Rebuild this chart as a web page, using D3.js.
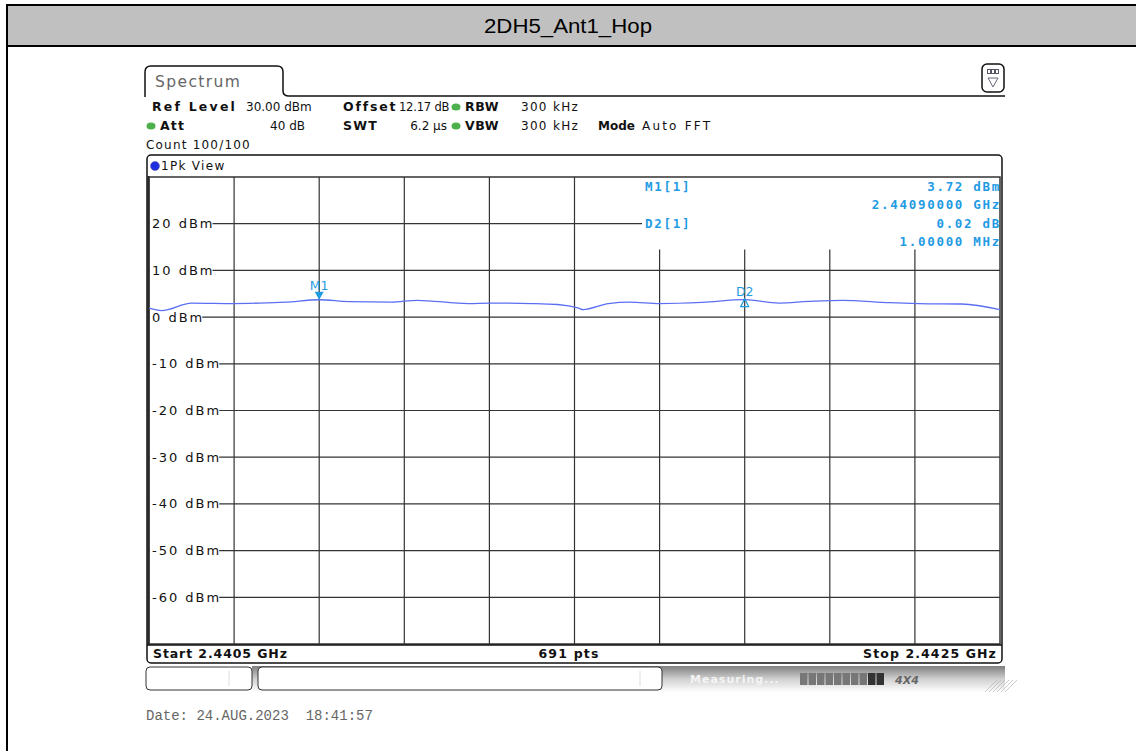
<!DOCTYPE html>
<html>
<head>
<meta charset="utf-8">
<script src="https://cdn.jsdelivr.net/npm/d3@7"></script>
<style>
  body { margin: 0; background: #fff; }
  svg { display: block; }
</style>
</head>
<body>
<div id="chart"></div>
<script>
// title / instrument settings
var chartTitle = "2DH5_Ant1_Hop";
var startGHz = 2.4405, stopGHz = 2.4425;
var refLevel = 30, levelMin = -70;
var levelTicks = [20, 10, 0, -10, -20, -30, -40, -50, -60];
var freqDivs = d3.range(0, 11).map(function(i){ return startGHz + i * (stopGHz - startGHz) / 10; });

// trace (GHz, dBm)
var traceFreq = [2.44050, 2.44053, 2.44060, 2.44070, 2.44076, 2.44082, 2.44090, 2.44097, 2.44107, 2.44113,
                 2.44125, 2.44130, 2.44140, 2.44146, 2.44151, 2.44152, 2.44158, 2.44163, 2.44170, 2.44180,
                 2.44190, 2.44198, 2.44205, 2.44213, 2.44224, 2.44231, 2.44241, 2.44250];
var traceLevel = [1.9, 1.4, 3.0, 2.9, 3.0, 3.2, 3.72, 3.3, 3.2, 3.6,
                  2.9, 3.0, 2.9, 2.7, 1.9, 1.6, 2.9, 3.2, 2.9, 3.15,
                  3.74, 3.0, 3.35, 3.6, 3.1, 2.9, 2.8, 1.6];

// markers
var markerNames = ["M1", "D2"];
var markerFreq = [2.4409, 2.4419];
var markerLevel = [3.72, 3.74];
var markerInfo = [["M1[1]", "3.72 dBm", "2.44090000 GHz"], ["D2[1]", "0.02 dB", "1.00000 MHz"]];

var W = 1136, H = 751;
var gridCOLOR = "#333", traceCOLOR = "#5b6ff2", markCOLOR = "#1f9be3";
var uiFont = "'DejaVu Sans', Verdana, sans-serif";

var svg = d3.select("#chart").append("svg").attr("width", W).attr("height", H);

// page frame + title bar
svg.append("rect").attr("x", 8).attr("y", 5).attr("width", W - 8).attr("height", 41).attr("fill", "#c0c0c0");
svg.append("line").attr("x1", 7).attr("x2", W).attr("y1", 5).attr("y2", 5).attr("stroke", "#000").attr("stroke-width", 2);
svg.append("line").attr("x1", 7).attr("x2", W).attr("y1", 46).attr("y2", 46).attr("stroke", "#000").attr("stroke-width", 2);
svg.append("line").attr("x1", 7).attr("x2", 7).attr("y1", 4).attr("y2", H).attr("stroke", "#000").attr("stroke-width", 2);
svg.append("text").attr("x", 568).attr("y", 33).attr("text-anchor", "middle")
  .attr("font-family", "'Liberation Sans', Arial, sans-serif").attr("font-size", 20).attr("fill", "#000")
  .attr("textLength", 168).attr("lengthAdjust", "spacingAndGlyphs")
  .text(chartTitle);

// spectrum tab
svg.append("path")
  .attr("d", "M145,97 L145,72 Q145,66 151,66 L277,66 Q283,66 283,72 L283,91 Q283,96 289,96 L1005,96")
  .attr("fill", "none").attr("stroke", "#111").attr("stroke-width", 1.5);
svg.append("text").attr("x", 155).attr("y", 87).attr("font-family", uiFont).attr("font-size", 15.5)
  .attr("letter-spacing", 1.4).attr("fill", "#666").text("Spectrum");

// icon top right
var icon = svg.append("g");
icon.append("rect").attr("x", 982).attr("y", 64).attr("width", 22).attr("height", 28).attr("rx", 5)
  .attr("fill", "#fff").attr("stroke", "#111").attr("stroke-width", 1.5);
icon.append("rect").attr("x", 987).attr("y", 69).attr("width", 12).attr("height", 5).attr("fill", "#556");
icon.selectAll("rect.cell").data([0, 1, 2]).enter().append("rect")
  .attr("x", function(d){ return 988 + d * 4; }).attr("y", 70).attr("width", 2).attr("height", 3).attr("fill", "#fff");
icon.append("path").attr("d", "M988,78 L998,78 L993,87 Z").attr("fill", "none").attr("stroke", "#667").attr("stroke-width", 1);

// settings text
function stext(x, y, t, bold, anchor, ls, fs) {
  svg.append("text").attr("x", x).attr("y", y).attr("font-family", uiFont)
    .attr("font-size", fs || (bold ? 12.5 : 12))
    .attr("letter-spacing", ls != null ? ls : (bold ? 1.2 : 0.3))
    .attr("font-weight", bold ? "bold" : "normal").attr("text-anchor", anchor || "start")
    .attr("fill", "#111").text(t);
}
function dot(x, y) {
  svg.append("ellipse").attr("cx", x).attr("cy", y).attr("rx", 4.5).attr("ry", 3.5).attr("fill", "#4cb04c");
}
stext(152, 111, "Ref Level", true, "start", 2.2); stext(246, 111, "30.00 dBm", false, "start", 0);
stext(343, 111, "Offset", true, "start", 1.8); stext(399, 111, "12.17 dB", false, "start", -0.2, 11.5);
dot(456, 107); stext(465, 111, "RBW", true, "start", 0.6); stext(521, 111, "300 kHz", false, "start", 1.3);
dot(151, 126); stext(160, 130, "Att", true); stext(305, 130, "40 dB", false, "end", 0);
stext(343, 130, "SWT", true); stext(447, 130, "6.2 µs", false, "end", 0);
dot(456, 126); stext(465, 130, "VBW", true, "start", 0.6); stext(521, 130, "300 kHz", false, "start", 1.3);
stext(598, 130, "Mode", true, "start", 0, 12); stext(642, 130, "Auto FFT", false, "start", 2.2);
stext(146, 149, "Count 100/100", false, "start", 1.2);

// diagram frame
svg.append("rect").attr("x", 147).attr("y", 155).attr("width", 855).attr("height", 508).attr("rx", 4)
  .attr("fill", "#fff").attr("stroke", "#111").attr("stroke-width", 1.5);
svg.append("line").attr("x1", 148.5).attr("x2", 148.5).attr("y1", 176).attr("y2", 645).attr("stroke", "#111").attr("stroke-width", 2);
svg.append("circle").attr("cx", 155).attr("cy", 166).attr("r", 4.5).attr("fill", "#1f2fe0").attr("stroke", "#55a").attr("stroke-width", 0.5);
stext(161, 170, "1Pk View", false, "start", 1.3);

var x = d3.scaleLinear().domain([startGHz, stopGHz]).range([149, 1000]);
var y = d3.scaleLinear().domain([levelMin, refLevel]).range([644, 177]);

var plot = svg.append("g");
// plot box
plot.append("rect").attr("x", x(startGHz)).attr("y", y(refLevel))
  .attr("width", x(stopGHz) - x(startGHz)).attr("height", y(levelMin) - y(refLevel))
  .attr("fill", "none").attr("stroke", gridCOLOR).attr("stroke-width", 1.5);

// vertical grid: divisions right of the marker table start lower
var infoLeft = x(freqDivs[5]), infoBottom = y(14.5);
plot.selectAll("line.vgrid").data(freqDivs.slice(1, 10)).enter().append("line")
  .attr("x1", function(d){ return x(d); }).attr("x2", function(d){ return x(d); })
  .attr("y1", function(d){ return x(d) > infoLeft + 1 ? infoBottom : y(refLevel); })
  .attr("y2", y(levelMin)).attr("stroke", gridCOLOR).attr("stroke-width", 1.2);

// horizontal grid with level labels
plot.selectAll("line.hgrid").data(levelTicks).enter().append("line")
  .attr("x1", x(startGHz))
  .attr("x2", function(d){ return y(d) < infoBottom ? 642 : x(stopGHz); })
  .attr("y1", function(d){ return y(d); }).attr("y2", function(d){ return y(d); })
  .attr("stroke", gridCOLOR).attr("stroke-width", 1.2);
var lab = plot.selectAll("g.lab").data(levelTicks).enter().append("g");
lab.append("text").attr("x", 152).attr("y", function(d){ return y(d) + 4.5; })
  .attr("font-family", uiFont).attr("font-size", 13).attr("letter-spacing", 2).attr("fill", "#111")
  .text(function(d){ return d + " dBm"; })
  .each(function(){
    var b = this.getBBox();
    d3.select(this.parentNode).insert("rect", "text").attr("x", b.x - 2).attr("y", b.y + 1)
      .attr("width", b.width).attr("height", b.height - 2).attr("fill", "#fff");
  });

// trace
var line = d3.line().x(function(d){ return x(d[0]); }).y(function(d){ return y(d[1]); }).curve(d3.curveMonotoneX);
plot.append("path").datum(d3.zip(traceFreq, traceLevel)).attr("d", line)
  .attr("fill", "none").attr("stroke", traceCOLOR).attr("stroke-width", 1.3);

// markers
markerNames.forEach(function(name, i){
  var mx = x(markerFreq[i]), my = y(markerLevel[i]);
  if (i === 0) {
    plot.append("path").attr("d", "M" + (mx - 4.5) + "," + (my - 8) + " L" + (mx + 4.5) + "," + (my - 8) + " L" + mx + "," + my + " Z")
      .attr("fill", markCOLOR);
  } else {
    plot.append("path").attr("d", "M" + (mx - 4) + "," + (my + 7) + " L" + (mx + 4) + "," + (my + 7) + " L" + mx + "," + (my - 1) + " Z")
      .attr("fill", "none").attr("stroke", markCOLOR).attr("stroke-width", 1.2);
  }
  plot.append("text").attr("x", mx).attr("y", i === 0 ? my - 10 : my - 4).attr("text-anchor", "middle")
    .attr("font-family", uiFont).attr("font-size", 12.5).attr("fill", markCOLOR).text(name);
});

// marker table
markerInfo.forEach(function(row, i){
  var y0 = 191 + i * 37;
  var f = function(xx, yy, t, anchor){
    plot.append("text").attr("x", xx).attr("y", yy).attr("text-anchor", anchor)
      .attr("font-family", "'DejaVu Sans Mono', monospace").attr("font-weight", "bold")
      .attr("font-size", 12.5).attr("letter-spacing", 1.7).attr("fill", markCOLOR).text(t);
  };
  f(645, y0, row[0], "start");
  f(1001, y0, row[1], "end");
  f(1001, y0 + 18, row[2], "end");
});

// bottom bar
svg.append("line").attr("x1", 147).attr("x2", 1002).attr("y1", 645).attr("y2", 645).attr("stroke", "#111").attr("stroke-width", 1.5);
stext(153, 658, "Start 2.4405 GHz", true, "start", 0.9);
stext(569, 658, "691 pts", true, "middle", 1.2);
stext(997, 658, "Stop 2.4425 GHz", true, "end", 1.1);

// status bar
var grad = svg.append("defs").append("linearGradient").attr("id", "stat").attr("x1", 0).attr("x2", 0).attr("y1", 0).attr("y2", 1);
grad.append("stop").attr("offset", 0).attr("stop-color", "#7e7e7e");
grad.append("stop").attr("offset", 0.5).attr("stop-color", "#d0d0d0");
grad.append("stop").attr("offset", 1).attr("stop-color", "#ffffff");
svg.append("rect").attr("x", 252).attr("y", 666).attr("width", 753).attr("height", 26).attr("fill", "url(#stat)");
svg.append("rect").attr("x", 146).attr("y", 667).attr("width", 106).attr("height", 23).attr("rx", 4)
  .attr("fill", "#fff").attr("stroke", "#333");
svg.append("line").attr("x1", 229).attr("x2", 229).attr("y1", 671).attr("y2", 686).attr("stroke", "#ddd");
svg.append("rect").attr("x", 258).attr("y", 667).attr("width", 404).attr("height", 23).attr("rx", 4)
  .attr("fill", "#fff").attr("stroke", "#333");
svg.append("line").attr("x1", 640).attr("x2", 640).attr("y1", 671).attr("y2", 686).attr("stroke", "#ddd");
svg.append("text").attr("x", 690).attr("y", 683).attr("font-family", uiFont).attr("font-size", 11)
  .attr("font-weight", "bold").attr("letter-spacing", 1).attr("fill", "#f4f4f4").text("Measuring...");
svg.selectAll("rect.prog").data(d3.range(10)).enter().append("rect")
  .attr("x", function(d){ return 800 + d * 8.5; }).attr("y", 673).attr("width", 7.5).attr("height", 12)
  .attr("fill", function(d){ return d >= 8 ? "#333" : "#777"; });
svg.append("text").attr("x", 895).attr("y", 684).attr("font-family", uiFont).attr("font-size", 11)
  .attr("font-weight", "bold").attr("font-style", "italic").attr("fill", "#666").text("4X4");
svg.selectAll("line.hatch").data(d3.range(6)).enter().append("line")
  .attr("x1", function(d){ return 985 + d * 4; }).attr("x2", function(d){ return 985 + d * 4 + 12; })
  .attr("y1", 692).attr("y2", 680).attr("stroke", "#bbb").attr("stroke-width", 0.8);

// date stamp
svg.append("text").attr("x", 146).attr("y", 720).attr("font-family", "'Liberation Mono', 'Courier New', monospace")
  .attr("font-size", 14).attr("fill", "#666").style("white-space", "pre")
  .text("Date: 24.AUG.2023  18:41:57");
</script>
</body>
</html>
